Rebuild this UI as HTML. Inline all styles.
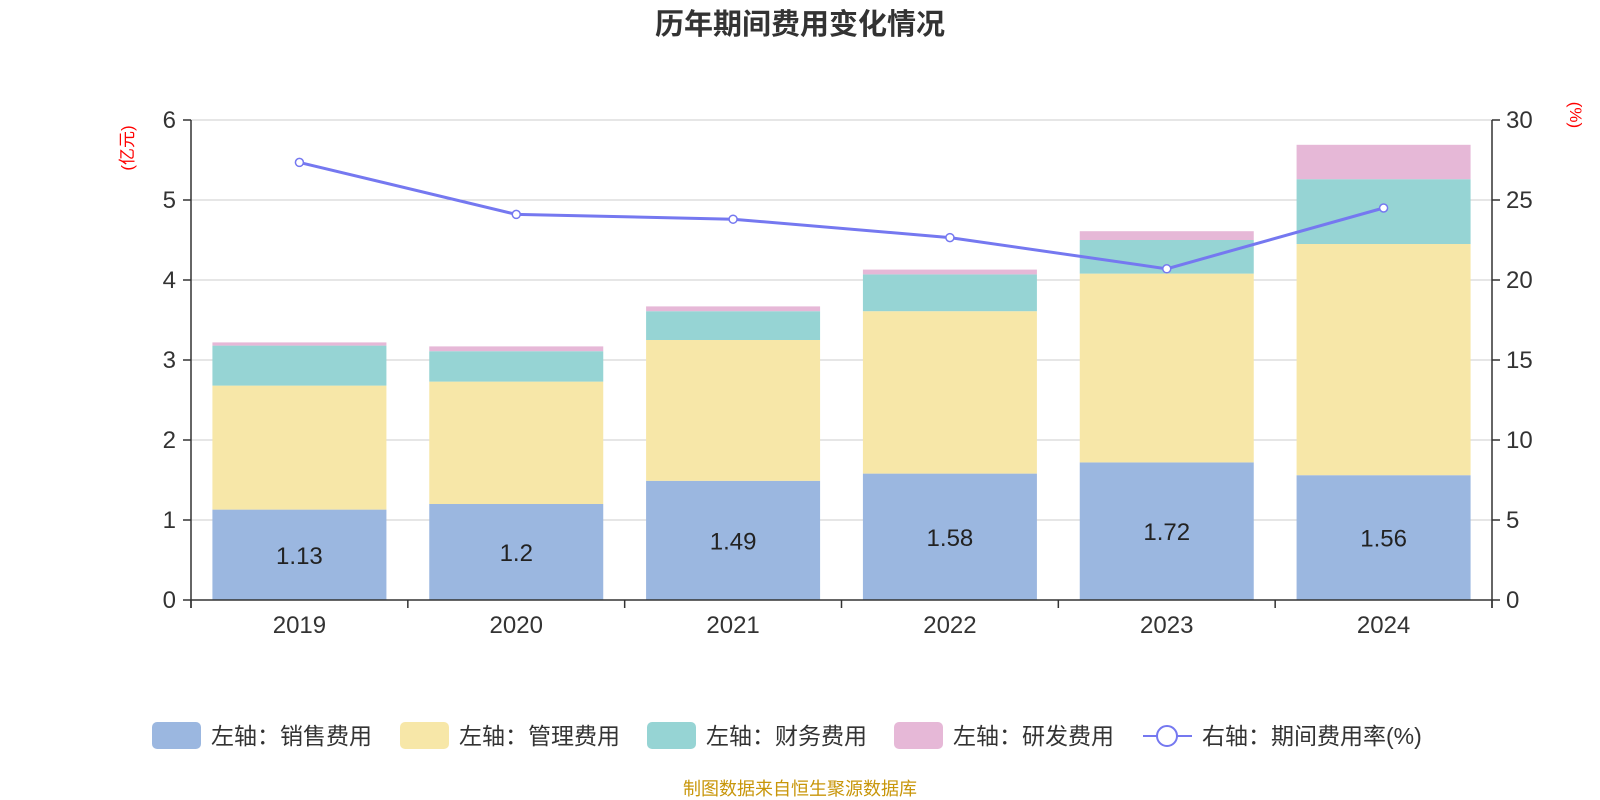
<!DOCTYPE html>
<html><head><meta charset="utf-8"><style>
body{margin:0;background:#fff;}
svg{display:block;font-family:"Liberation Sans","Noto Sans CJK SC",sans-serif;}
</style></head><body>
<svg width="1600" height="800" viewBox="0 0 1600 800" xmlns="http://www.w3.org/2000/svg">
<text x="800" y="34" text-anchor="middle" font-size="29" font-weight="bold" fill="#333">历年期间费用变化情况</text>
<g id="grid" stroke="#ccc" stroke-width="1"></g>
<g id="bars"></g>
<g stroke="#333" stroke-width="1.5" fill="none">
<line x1="191" y1="120" x2="191" y2="608"/>
<line x1="1492" y1="120" x2="1492" y2="608"/>
<line x1="191" y1="600" x2="1492" y2="600"/>
</g>
<text x="133" y="148" font-size="17" fill="red" transform="rotate(-90 133 148)" text-anchor="middle">(亿元)</text>
<text x="1570" y="115" font-size="17" fill="red" transform="rotate(90 1570 115)" text-anchor="middle">(%)</text>
<g id="ax" font-size="24" fill="#333"></g>
<g font-size="23" fill="#333">
<rect x="152" y="722" width="49" height="27" rx="5" fill="#9bb7e0"/><text x="211" y="744">左轴：销售费用</text>
<rect x="400" y="722" width="49" height="27" rx="5" fill="#f7e7a8"/><text x="459" y="744">左轴：管理费用</text>
<rect x="647" y="722" width="49" height="27" rx="5" fill="#96d4d4"/><text x="706" y="744">左轴：财务费用</text>
<rect x="894" y="722" width="49" height="27" rx="5" fill="#e6b8d7"/><text x="953" y="744">左轴：研发费用</text>
<line x1="1143" y1="736" x2="1192" y2="736" stroke="#7578f0" stroke-width="2"/><circle cx="1167" cy="736" r="10" fill="#fff" stroke="#7578f0" stroke-width="2"/><text x="1202" y="744">右轴：期间费用率(%)</text>
</g>
<text x="800" y="795" text-anchor="middle" font-size="18" fill="#c8960a">制图数据来自恒生聚源数据库</text>
<script>
var d=[[1.13,2.68,3.18,3.22,27.35,"2019","1.13"],[1.2,2.73,3.11,3.17,24.1,"2020","1.2"],[1.49,3.25,3.61,3.67,23.8,"2021","1.49"],[1.58,3.61,4.07,4.13,22.65,"2022","1.58"],[1.72,4.08,4.5,4.61,20.7,"2023","1.72"],[1.56,4.45,5.26,5.69,24.5,"2024","1.56"]];
var ns="http://www.w3.org/2000/svg",b=document.getElementById("bars"),a=document.getElementById("ax"),g=document.getElementById("grid");
function el(p,t,o,tx){var e=document.createElementNS(ns,t);for(var k in o)e.setAttribute(k,o[k]);if(tx!==undefined)e.textContent=tx;p.appendChild(e);return e;}
var L=191,RR=1492,Y0=600,H=480,CW=(RR-L)/6;
function Y(v){return Y0-v*H/6;}function R(v){return Y0-v*H/30;}
var cols=["#9bb7e0","#f7e7a8","#96d4d4","#e6b8d7"],pts=[];
for(var i=1;i<=6;i++)el(g,"line",{x1:L,y1:Y(i),x2:RR,y2:Y(i)});
d.forEach(function(r,i){var cx=L+CW*(i+0.5),prev=0;
for(var j=0;j<4;j++){el(b,"rect",{x:cx-87,y:Y(r[j]),width:174,height:Y(prev)-Y(r[j]),fill:cols[j]});prev=r[j];}
el(b,"text",{x:cx,y:(Y(r[0])+Y0)/2+9,"text-anchor":"middle","font-size":24,fill:"#222"},r[6]);
el(a,"text",{x:cx,y:633,"text-anchor":"middle"},r[5]);
pts.push(cx+","+R(r[4]));});
for(var i=0;i<=6;i++){var x=L+CW*i;el(a,"line",{x1:x,y1:Y0,x2:x,y2:Y0+8,stroke:"#333","stroke-width":1.5});}
for(var i=0;i<=6;i++){el(a,"text",{x:176,y:Y(i)+8,"text-anchor":"end"},i);el(a,"line",{x1:183,y1:Y(i),x2:L,y2:Y(i),stroke:"#333","stroke-width":1.5});
el(a,"text",{x:1506,y:Y(i)+8},i*5);el(a,"line",{x1:RR,y1:Y(i),x2:RR+8,y2:Y(i),stroke:"#333","stroke-width":1.5});}
el(b.parentNode,"polyline",{points:pts.join(" "),fill:"none",stroke:"#7578f0","stroke-width":3});
pts.forEach(function(p){var q=p.split(",");el(b.parentNode,"circle",{cx:q[0],cy:q[1],r:4,fill:"#fff",stroke:"#7578f0","stroke-width":1.5});});
</script>
</svg>
</body></html>
